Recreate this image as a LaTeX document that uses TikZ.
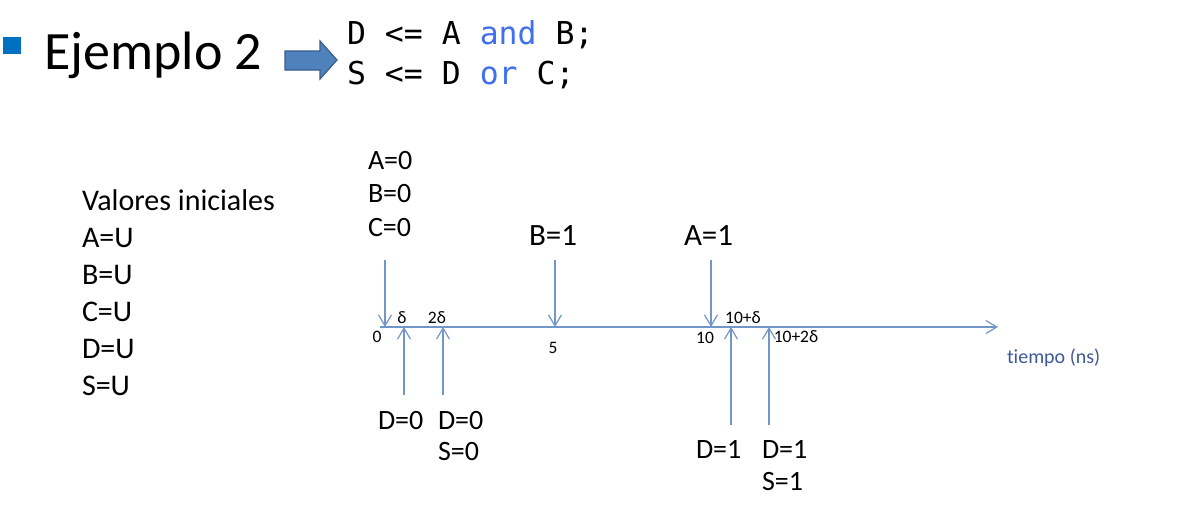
\documentclass[tikz,border=0pt]{standalone}
\usepackage{fontspec}
\setmainfont{Carlito}[Ligatures=NoCommon]
\newfontfamily\codefont{DejaVu Sans Mono}
\usetikzlibrary{arrows.meta}
\definecolor{axisblue}{HTML}{7396C8}
\definecolor{bulletblue}{HTML}{0070C0}
\definecolor{arrowfill}{HTML}{4F81BD}
\definecolor{arrowedge}{HTML}{385D8A}
\definecolor{kwblue}{HTML}{4070F0}
\definecolor{tiempoblue}{HTML}{3D5A96}
\tikzset{
  txt/.style={inner sep=0pt, outer sep=0pt, anchor=base west, font=\fontsize{28}{32}\selectfont},
  lefttxt/.style={inner sep=0pt, outer sep=0pt, anchor=base west, font=\fontsize{30}{34}\selectfont},
  bigtxt/.style={inner sep=0pt, outer sep=0pt, anchor=base west, font=\fontsize{31}{36}\selectfont},
  small/.style={inner sep=0pt, outer sep=0pt, anchor=base, font=\fontsize{17.5}{20}\selectfont},
  code/.style={inner sep=0pt, outer sep=0pt, anchor=base west, font=\codefont\fontsize{31.5}{36}\selectfont},
  evt/.style={draw=axisblue, line width=1.2pt, -{Straight Barb[length=11pt,width=13pt,line width=1.2pt]}},
}
\begin{document}
\begin{tikzpicture}[x=1pt,y=-1pt]
\path[use as bounding box, fill=white] (0,0) rectangle (1204,507);
% title
\node[fill=bulletblue, minimum width=18pt, minimum height=17pt, inner sep=0pt] (bullet) at (12,45) {};
\node[inner sep=0pt, anchor=base west, font=\fontsize{54}{60}\selectfont] (title) at (44,69) {Ejemplo 2};
\draw[fill=arrowfill, draw=arrowedge, line width=1.2pt]
  (285,51) -- (320,51) -- (320,41) -- (337,60) -- (320,79) -- (320,70) -- (285,70) -- cycle;
\node[code] (code1) at (347,44) {D <= A \textcolor{kwblue}{and} B;};
\node[code] (code2) at (347,84) {S <= D \textcolor{kwblue}{or} C;};
% initial values
\node[lefttxt] (vi) at (82,210) {Valores iniciales};
\node[lefttxt] (au) at (82,247) {A=U};
\node[lefttxt] (bu) at (82,284) {B=U};
\node[lefttxt] (cu) at (82,321) {C=U};
\node[lefttxt] (du) at (82,358) {D=U};
\node[lefttxt] (su) at (82,395) {S=U};
% top labels
\node[txt] (a0) at (368,169) {A=0};
\node[txt] (b0) at (368,202.5) {B=0};
\node[txt] (c0) at (368,236) {C=0};
\node[bigtxt] (b1) at (529,245) {B=1};
\node[bigtxt] (a1) at (684,245) {A=1};
% axis
\coordinate (axs) at (380,327);
\coordinate (axe) at (998,327);
\draw[draw=axisblue, line width=1.2pt, -{Straight Barb[length=11pt,width=13pt,line width=1.2pt]}] (axs) -- (axe);
\node[small, anchor=base west, text=tiempoblue, font=\fontsize{20}{24}\selectfont] (tiempo) at (1007,363) {tiempo (ns)};
% tick labels
\node[small] (l0) at (377,342) {0};
\node[small] (ld) at (402,323) {δ};
\node[small] (l2d) at (437,323) {2δ};
\node[small] (l5) at (553,353) {5};
\node[small] (l10) at (705,343) {10};
\node[small] (l10d) at (743,323) {10+δ};
\node[small] (l102d) at (796,342) {10+2δ};
% down arrows
\coordinate (t0) at (385,260); \coordinate (t0e) at (385,327);
\coordinate (t5) at (555,260); \coordinate (t5e) at (555,327);
\coordinate (t10) at (711,260); \coordinate (t10e) at (711,327);
\draw[evt] (t0) -- (t0e);
\draw[evt] (t5) -- (t5e);
\draw[evt] (t10) -- (t10e);
% up arrows
\coordinate (u1) at (404,395); \coordinate (u1e) at (404,327);
\coordinate (u2) at (443,395); \coordinate (u2e) at (443,327);
\coordinate (u3) at (731,425); \coordinate (u3e) at (731,327);
\coordinate (u4) at (769,425); \coordinate (u4e) at (769,327);
\draw[evt] (u1) -- (u1e);
\draw[evt] (u2) -- (u2e);
\draw[evt] (u3) -- (u3e);
\draw[evt] (u4) -- (u4e);
% bottom labels
\node[txt] (d0a) at (378,429) {D=0};
\node[txt] (d0b) at (438,429) {D=0};
\node[txt] (s0) at (438,460) {S=0};
\node[txt] (d1a) at (696,458) {D=1};
\node[txt] (d1b) at (762,458) {D=1};
\node[txt] (s1) at (762,490) {S=1};
\end{tikzpicture}
\end{document}
